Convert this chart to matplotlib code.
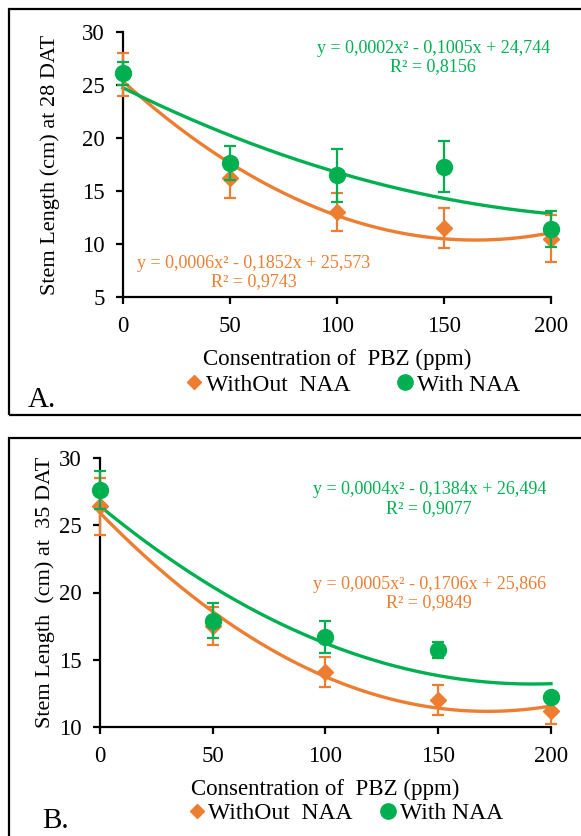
import numpy as np
import matplotlib
matplotlib.use("Agg")
import matplotlib.pyplot as plt
from matplotlib.lines import Line2D
from matplotlib.patches import Rectangle

plt.rcParams['font.family'] = ['Liberation Serif', 'DejaVu Serif']

ORANGE = "#ED7D31"
GREEN = "#00B050"

# PBZ concentrations
ppm = [0, 50, 100, 150, 200]

# panel A : 28 DAT
a_without = [26.0, 16.2, 13.0, 11.5, 10.5]
a_without_err = [2.0, 1.9, 1.8, 1.9, 2.2]
a_with = [26.1, 17.6, 16.5, 17.3, 11.4]
a_with_err = [1.1, 1.6, 2.5, 2.4, 1.7]
a_eq_with = "y = 0,0002x² - 0,1005x + 24,744\nR² = 0,8156"
a_eq_without = "y = 0,0006x² - 0,1852x + 25,573\nR² = 0,9743"

# panel B : 35 DAT
b_without = [26.4, 17.5, 14.1, 12.0, 11.2]
b_without_err = [2.1, 1.4, 1.1, 1.1, 1.0]
b_with = [27.6, 17.9, 16.7, 15.7, 12.2]
b_with_err = [1.4, 1.3, 1.2, 0.6, 0.3]
b_eq_with = "y = 0,0004x² - 0,1384x + 26,494\nR² = 0,9077"
b_eq_without = "y = 0,0005x² - 0,1706x + 25,866\nR² = 0,9849"

W, H = 581, 836
fig = plt.figure(figsize=(W / 100, H / 100), dpi=100)


def px(x0, y0, x1, y1):
    # pixel box -> figure fraction rect
    return [x0 / W, 1 - y1 / H, (x1 - x0) / W, (y1 - y0) / H]


def panel(rect, ylim, yticks, ylabel, ylabelpad, without, without_err, with_, with_err,
          eq_with, eq_with_pos, eq_without, eq_without_pos):
    ax = fig.add_axes(rect)
    x = np.array(ppm, dtype=float)
    xs = np.linspace(0, 200, 200)

    # trendlines (2nd order poly fit)
    for vals, col in ((without, ORANGE), (with_, GREEN)):
        c = np.polyfit(x, vals, 2)
        ax.plot(xs, np.polyval(c, xs), color=col, lw=2.4, zorder=3)

    ax.errorbar(x, without, yerr=without_err, fmt="D", color=ORANGE, ms=8,
                capsize=4, elinewidth=1.6, capthick=1.6, zorder=4)
    ax.errorbar(x, with_, yerr=with_err, fmt="o", color=GREEN, ms=11.5,
                capsize=4, elinewidth=1.6, capthick=1.6, zorder=5)

    ax.text(*eq_with_pos, eq_with, color=GREEN, fontsize=13, ha="center",
            va="center", linespacing=1.1)
    ax.text(*eq_without_pos, eq_without, color=ORANGE, fontsize=13, ha="center",
            va="center", linespacing=1.1)

    ax.set_xlim(0, 200)
    ax.set_ylim(*ylim)
    ax.set_xticks(ppm)
    ax.set_yticks(yticks)
    ax.spines["top"].set_visible(False)
    ax.spines["right"].set_visible(False)
    ax.spines["left"].set_linewidth(1.6)
    ax.spines["bottom"].set_linewidth(1.6)
    ax.tick_params(axis="both", labelsize=16.5, width=1.6, length=5, direction="out")
    ax.tick_params(axis="x", pad=9)
    ax.tick_params(axis="y", pad=8)
    ax.set_ylabel(ylabel, fontsize=16, labelpad=ylabelpad)
    ax.set_xlabel("Consentration of  PBZ (ppm)", fontsize=16.5, labelpad=8)
    for art in ax.lines + ax.collections:
        art.set_clip_on(False)
    return ax


axA = panel(px(123, 32, 551, 297), (5, 30), [5, 10, 15, 20, 25, 30],
            "Stem Length (cm) at 28 DAT", 16, a_without, a_without_err, a_with, a_with_err,
            a_eq_with, (145, 27.6), a_eq_without, (61, 7.3))

axB = panel(px(100, 458, 551, 727), (10, 30), [10, 15, 20, 25, 30],
            "Stem Length  (cm) at  35 DAT", 3, b_without, b_without_err, b_with, b_with_err,
            b_eq_with, (146, 26.95), b_eq_without, (146, 19.95))

handles = [Line2D([], [], marker="D", ls="none", color=ORANGE, ms=7),
           Line2D([], [], marker="o", ls="none", color=GREEN, ms=11)]
labels = ["WithOut  NAA", "With NAA"]
fig.legend(handles, labels, loc="center", bbox_to_anchor=(351 / W, 1 - 385 / H),
           ncol=2, frameon=False, fontsize=17, handletextpad=0.0,
           columnspacing=1.8, handlelength=1.0)
fig.legend(handles, labels, loc="center", bbox_to_anchor=(344 / W, 1 - 813 / H),
           ncol=2, frameon=False, fontsize=17, handletextpad=0.0,
           columnspacing=1.0, handlelength=1.0)

fig.text(28 / W, 1 - 400 / H, "A.", fontsize=21, va="center", ha="left")
fig.text(42 / W, 1 - 821 / H, "B.", fontsize=21, va="center", ha="left")

# panel borders
fig.patches.append(Rectangle((9 / W, 1 - 415 / H), 600 / W, 406 / H, fill=False,
                             lw=1.6, ec="black", transform=fig.transFigure))
fig.patches.append(Rectangle((9 / W, -0.05), 600 / W, 1 - 438 / H + 0.05, fill=False,
                             lw=1.6, ec="black", transform=fig.transFigure))

fig.savefig("out.png", dpi=100)
